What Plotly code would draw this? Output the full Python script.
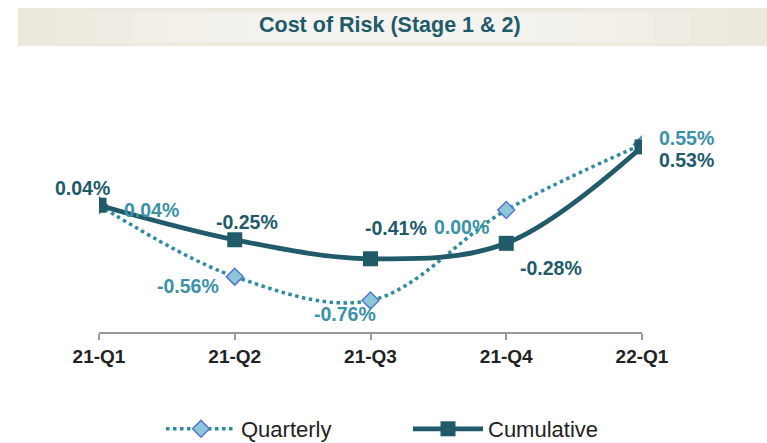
import plotly.graph_objects as go

categories = ["21-Q1", "21-Q2", "21-Q3", "21-Q4", "22-Q1"]
quarterly = [0.04, -0.56, -0.76, 0.00, 0.55]
cumulative = [0.04, -0.25, -0.41, -0.28, 0.53]

# label offsets (px) relative to each point
q_off = [(52, -5), (-47, -9), (-26, -14), (-45, -17), (44, 7)]
c_off = [(-17, 17), (12, 18), (25, 31), (45, -25), (44, -13)]

CUM = "#215B6A"
QLINE = "#2F8BA0"
QLAB = "#3B92A8"
FONT = "Liberation Sans, Arial, sans-serif"

W, H = 767, 443
L, R, T, B = 99, 125, 70, 111
pw, ph = W - L - R, H - T - B

fig = go.Figure()
fig.add_trace(go.Scatter(
    x=categories, y=quarterly, name="Quarterly", mode="lines+markers",
    line=dict(color=QLINE, width=3.5, dash="dot", shape="spline", smoothing=1),
    marker=dict(symbol="diamond", size=13, color="#8CC8DA",
                line=dict(color="#5577CC", width=1.5)),
))
fig.add_trace(go.Scatter(
    x=categories, y=cumulative, name="Cumulative", mode="lines+markers",
    line=dict(color=CUM, width=4.8, shape="spline", smoothing=1),
    marker=dict(symbol="square", size=15, color=CUM),
))

ann = []
for i, v in enumerate(quarterly):
    ann.append(dict(x=categories[i], y=v, text=f"{v:.2f}%", showarrow=False,
                    xshift=q_off[i][0], yshift=q_off[i][1],
                    font=dict(family=FONT, size=19.5, color=QLAB, weight="bold")))
for i, v in enumerate(cumulative):
    ann.append(dict(x=categories[i], y=v, text=f"{v:.2f}%", showarrow=False,
                    xshift=c_off[i][0], yshift=c_off[i][1],
                    font=dict(family=FONT, size=19.5, color=CUM, weight="bold")))

# title bar
def px_to_paper_x(px):
    return (px - L) / pw

def py_to_paper_y(py):
    return (H - B - py) / ph

bx0, bx1, by0, by1 = 18, 767, 8, 46
shapes = [dict(type="rect", xref="paper", yref="paper",
               x0=px_to_paper_x(bx0), x1=px_to_paper_x(bx1),
               y0=py_to_paper_y(by1), y1=py_to_paper_y(by0),
               fillcolor="#EBE8DC", line=dict(width=0), layer="below")]
for k in range(1, 8):
    inset = k * 38
    shapes.append(dict(type="rect", xref="paper", yref="paper",
                       x0=px_to_paper_x(bx0 + inset), x1=px_to_paper_x(bx1 - inset),
                       y0=py_to_paper_y(by1 - 2 - k * 0.6), y1=py_to_paper_y(by0 + 2 + k * 0.6),
                       fillcolor="white", opacity=0.12, line=dict(width=0), layer="below"))

ann.append(dict(xref="paper", yref="paper", x=px_to_paper_x(390), y=py_to_paper_y(25),
                xanchor="center", yanchor="middle",
                text="Cost of Risk (Stage 1 & 2)", showarrow=False,
                font=dict(family=FONT, size=21.5, color=CUM, weight="bold")))

fig.update_layout(
    width=W, height=H,
    margin=dict(l=L, r=R, t=T, b=B, autoexpand=False),
    paper_bgcolor="white", plot_bgcolor="white",
    showlegend=True,
    legend=dict(orientation="h", x=px_to_paper_x(161), xanchor="left",
                y=py_to_paper_y(429), yanchor="middle",
                font=dict(family=FONT, size=22, color="#222222"),
                itemwidth=70, entrywidth=162, traceorder="normal"),
    annotations=ann,
    shapes=shapes,
    xaxis=dict(type="category", range=[0, 4], showgrid=False, zeroline=False,
               showline=True, linecolor="#999999", linewidth=2,
               ticks="outside", ticklen=6, tickcolor="#999999", tickwidth=2,
               tickfont=dict(family=FONT, size=19, color="#222222", weight="bold"),
               fixedrange=True),
    yaxis=dict(range=[-1.025, 1.176], visible=False, showgrid=False, zeroline=False,
               fixedrange=True),
)

fig.write_html("out.html", config={"displayModeBar": False},
               post_script="document.body.style.margin='0';document.body.style.overflow='hidden';")
